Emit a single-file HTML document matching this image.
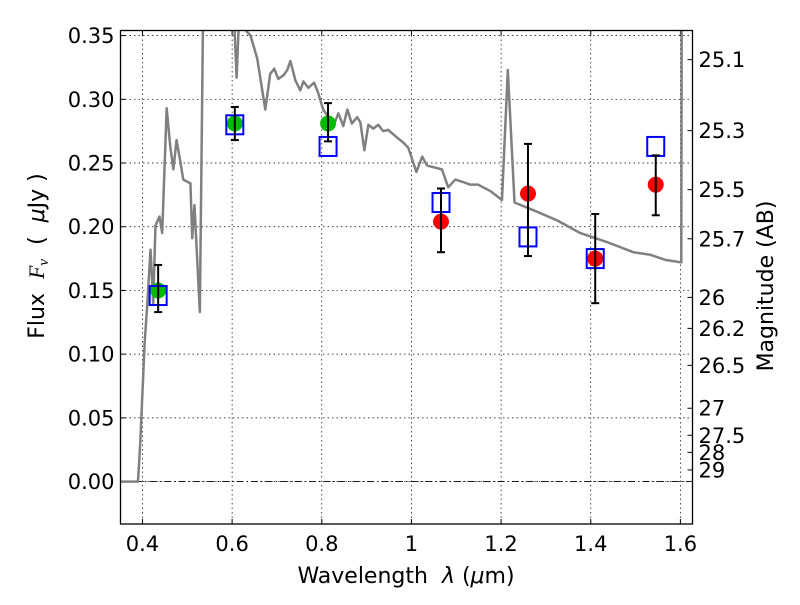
<!DOCTYPE html>
<html><head><meta charset="utf-8">
<style>
body{margin:0;background:#fff;}
svg text{font-family:"DejaVu Sans","Liberation Sans",sans-serif;fill:#000;}
</style></head>
<body>
<svg id="chart" width="800" height="600" xmlns="http://www.w3.org/2000/svg"></svg>
<script>
const xTicks=[0.4,0.6,0.8,1.0,1.2,1.4,1.6];
const xTickLabels=["0.4","0.6","0.8","1","1.2","1.4","1.6"];
const yTicks=[0,0.05,0.10,0.15,0.20,0.25,0.30,0.35];
const yTickLabels=["0.00","0.05","0.10","0.15","0.20","0.25","0.30","0.35"];
const magTicks=[25.1,25.3,25.5,25.7,26,26.2,26.5,27,27.5,28,29];
const specWave=[0.35,0.39,0.395,0.40,0.405,0.410,0.418,0.424,0.429,0.438,0.444,0.454,0.462,0.469,0.476,0.485,0.491,0.507,0.511,0.516,0.528,0.535,0.545,0.6,0.610,0.615,0.641,0.656,0.674,0.685,0.694,0.703,0.715,0.723,0.730,0.741,0.752,0.759,0.770,0.783,0.792,0.803,0.815,0.826,0.837,0.848,0.857,0.867,0.879,0.886,0.895,0.904,0.915,0.926,0.937,0.948,0.968,0.982,0.993,1.011,1.024,1.035,1.068,1.082,1.098,1.116,1.131,1.149,1.176,1.202,1.215,1.230,1.272,1.325,1.377,1.436,1.495,1.533,1.566,1.602,1.603];
const specFlux=[0,0,0.03,0.07,0.11,0.135,0.182,0.140,0.201,0.208,0.195,0.293,0.263,0.245,0.268,0.250,0.237,0.234,0.191,0.217,0.133,0.36,0.40,0.40,0.317,0.36,0.350,0.332,0.292,0.320,0.324,0.316,0.319,0.323,0.330,0.315,0.307,0.314,0.309,0.313,0.305,0.292,0.286,0.279,0.289,0.279,0.292,0.281,0.286,0.282,0.260,0.280,0.277,0.280,0.275,0.276,0.270,0.266,0.262,0.243,0.255,0.248,0.245,0.231,0.237,0.235,0.233,0.233,0.228,0.221,0.323,0.219,0.213,0.205,0.195,0.188,0.180,0.178,0.174,0.172,0.40];
const greenWave=[0.435,0.606,0.814];
const greenFlux=[0.150,0.281,0.281];
const greenLo=[0.133,0.268,0.267];
const greenHi=[0.170,0.294,0.297];
const redWave=[1.066,1.260,1.410,1.545];
const redFlux=[0.204,0.226,0.175,0.233];
const redLo=[0.180,0.177,0.140,0.209];
const redHi=[0.230,0.265,0.210,0.256];
const modelWave=[0.435,0.606,0.814,1.066,1.260,1.410,1.545];
const modelFlux=[0.146,0.280,0.263,0.219,0.192,0.175,0.263];

const L=120.5,R=692.5,T=30.5,B=524;
const xMin=0.351,xMax=1.627,yMin=-0.0333,yMax=0.354;
const sx=v=>L+(v-xMin)/(xMax-xMin)*(R-L);
const sy=v=>B-(v-yMin)/(yMax-yMin)*(B-T);
const NS="http://www.w3.org/2000/svg";
const svg=document.getElementById('chart');
function mk(tag,attrs,parent){const e=document.createElementNS(NS,tag);for(const k in attrs)e.setAttribute(k,attrs[k]);(parent||svg).appendChild(e);return e;}

const clip=mk('clipPath',{id:'pc'});mk('rect',{x:L,y:T,width:R-L,height:B-T},clip);

xTicks.forEach((t,i)=>{
  const g=mk('line',{x1:sx(t),x2:sx(t),y1:T,y2:B,stroke:'#000','stroke-width':0.7,'stroke-dasharray':'1.5,3'});
  
  
  mk('line',{x1:sx(t),x2:sx(t),y1:B,y2:B-5,stroke:'#000'});
  mk('line',{x1:sx(t),x2:sx(t),y1:T,y2:T+5,stroke:'#000'});
  const tx=mk('text',{x:sx(t),y:B+27,'font-size':21,'text-anchor':'middle'});
  tx.textContent=xTickLabels[i];
  
  
});
yTicks.forEach((t,i)=>{
  const g=mk('line',{x1:L,x2:R,y1:sy(t),y2:sy(t),stroke:'#000','stroke-width':0.7,'stroke-dasharray':'1.5,3'});
  
  
  mk('line',{x1:L,x2:L+5,y1:sy(t),y2:sy(t),stroke:'#000'});
  const tx=mk('text',{x:L-6,y:sy(t)+7.5,'font-size':21,'text-anchor':'end'});
  tx.textContent=yTickLabels[i];
  
  
});
const z=mk('line',{x1:L,x2:R,y1:sy(0),y2:sy(0),stroke:'#000','stroke-width':0.8,'stroke-dasharray':'7,3,1.5,3'});



magTicks.forEach(m=>{
  const f=Math.pow(10,(23.9-m)/2.5);
  const y=sy(f);
  mk('line',{x1:R,x2:R-5,y1:y,y2:y,stroke:'#000'});
  const tx=mk('text',{x:R+6,y:y+7.5,'font-size':21});
  tx.textContent=String(m);
  
  
});

const gp=mk('g',{'clip-path':'url(#pc)'});
const sp=mk('polyline',{points:specWave.map((w,i)=>sx(w)+','+sy(specFlux[i])).join(' '),fill:'none',stroke:'#808080','stroke-width':2.5,'stroke-linejoin':'round'},gp);



function errbar(w,lo,hi){
  const g=mk('g',{stroke:'#000','stroke-width':2});
  
  
  mk('line',{x1:sx(w),x2:sx(w),y1:sy(lo),y2:sy(hi)},g);
  mk('line',{x1:sx(w)-4,x2:sx(w)+4,y1:sy(lo),y2:sy(lo)},g);
  mk('line',{x1:sx(w)-4,x2:sx(w)+4,y1:sy(hi),y2:sy(hi)},g);
}
greenWave.forEach((w,i)=>{
  const c=mk('circle',{cx:sx(w),cy:sy(greenFlux[i]),r:8,fill:'#00bb00'});
  
  
});
redWave.forEach((w,i)=>{
  const c=mk('circle',{cx:sx(w),cy:sy(redFlux[i]),r:8,fill:'#ff0000'});
  
  
});
modelWave.forEach((w,i)=>{
  const r=mk('rect',{x:sx(w)-8.5,y:sy(modelFlux[i])-9.5,width:17,height:19,fill:'none',stroke:'#0000ff','stroke-width':2});
  
  
});
greenWave.forEach((w,i)=>errbar(w,greenLo[i],greenHi[i]));
redWave.forEach((w,i)=>errbar(w,redLo[i],redHi[i]));

const fr=mk('rect',{x:L,y:T,width:R-L,height:B-T,fill:'none',stroke:'#000','stroke-width':1.3});



const xl=mk('text',{x:406,y:583,'font-size':22,'text-anchor':'middle'});
xl.innerHTML='Wavelength\u00a0\u00a0<tspan font-style="italic">λ</tspan>\u00a0(<tspan font-style="italic">μ</tspan>m)';


const yl=mk('text',{x:0,y:0,'font-size':22,'text-anchor':'middle',transform:'translate(44,256) rotate(-90)'});
yl.innerHTML='Flux\u00a0\u00a0<tspan font-style="italic" font-family="Liberation Serif">F<tspan font-size="15" dy="4">ν</tspan></tspan><tspan dy="-4">\u00a0\u00a0(\u00a0\u00a0</tspan><tspan font-style="italic">μ</tspan>Jy\u00a0)';


const rl=mk('text',{x:0,y:0,'font-size':22,'text-anchor':'middle',transform:'translate(773,286) rotate(-90)'});
rl.textContent='Magnitude (AB)';


</script>
</body></html>
